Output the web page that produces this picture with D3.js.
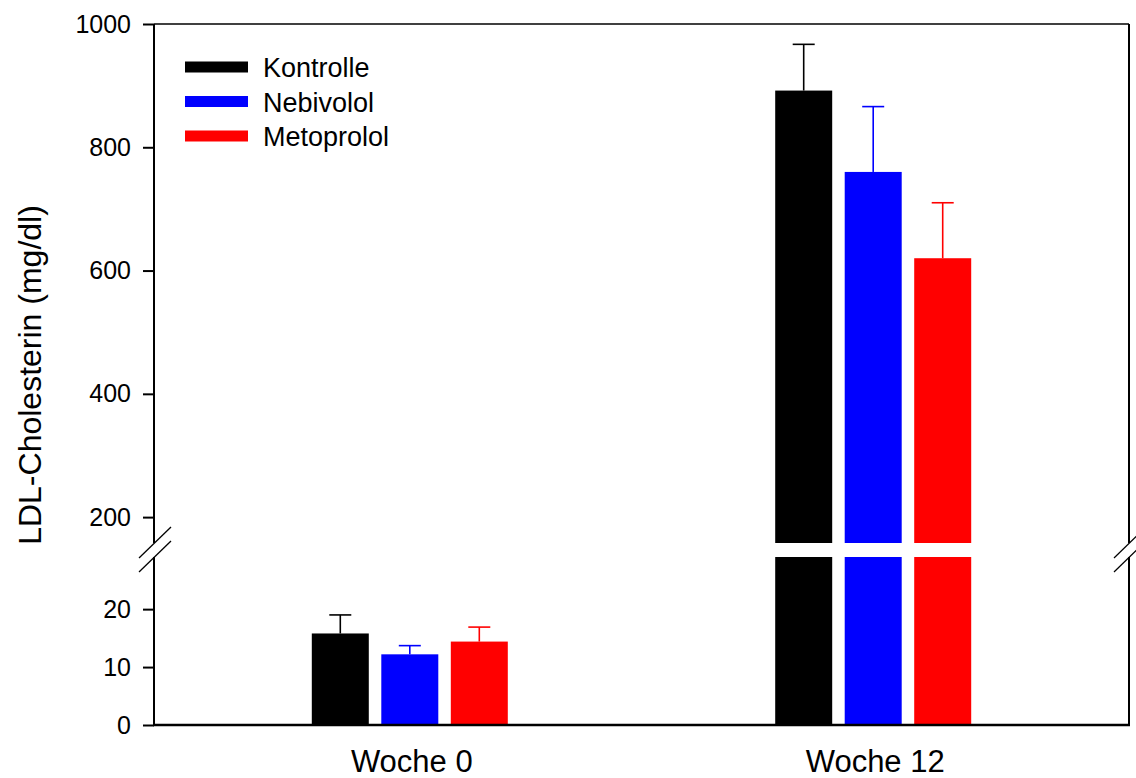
<!DOCTYPE html>
<html>
<head>
<meta charset="utf-8">
<script src="https://cdn.jsdelivr.net/npm/d3@7"></script>
<style>
  body { margin: 0; background: #fff; }
  svg { display: block; font-family: "Liberation Sans", Arial, sans-serif; }
</style>
</head>
<body>
<div id="chart"></div>
<script>
// LDL-Cholesterin, broken y axis (0–29 below, ~158–1000 above)
const weeks = ['Woche 0', 'Woche 12'];
const groups = ['Kontrolle', 'Nebivolol', 'Metoprolol'];
const colors = ['#000000', '#0000ff', '#ff0000'];
const means = [
  [15.8, 12.2, 14.4],    // Woche 0
  [892, 760, 620]        // Woche 12
];
const sems = [
  [3.2, 1.5, 2.5],
  [75, 106, 90]
];
const upperTicks = [200, 400, 600, 800, 1000];
const lowerTicks = [0, 10, 20];

const W = 1136, H = 778;
const plotL = 154, plotR = 1129, plotT = 24, plotB = 725;
const breakTop = 543, breakBot = 557;

const svg = d3.select('#chart').append('svg')
  .attr('width', W).attr('height', H);

const x = d3.scalePoint().domain(weeks).range([plotL, plotR]).padding(0.552);
const xs = d3.scaleBand().domain(groups).range([-98, 98]).paddingInner(0.18);
const yU = d3.scaleLinear().domain([158, 1000]).range([breakTop, plotT]);
const yL = d3.scaleLinear().domain([0, 29]).range([plotB, breakBot]);

// value -> pixel, across the break
function yv(v) { return v > yL.domain()[1] ? yU(v) : yL(v); }

// bars
weeks.forEach((wk, i) => {
  const g = svg.append('g');
  groups.forEach((grp, j) => {
    const v = means[i][j];
    const bx = x(wk) + xs(grp);
    if (v > yL.domain()[1]) {
      g.append('rect').attr('x', bx).attr('width', xs.bandwidth())
        .attr('y', breakBot).attr('height', plotB - breakBot).attr('fill', colors[j]);
      g.append('rect').attr('x', bx).attr('width', xs.bandwidth())
        .attr('y', yU(v)).attr('height', breakTop - yU(v)).attr('fill', colors[j]);
    } else {
      g.append('rect').attr('x', bx).attr('width', xs.bandwidth())
        .attr('y', yL(v)).attr('height', plotB - yL(v)).attr('fill', colors[j]);
    }
    // upper error bar
    const cx = bx + xs.bandwidth() / 2;
    const yTop = yv(v + sems[i][j]);
    g.append('line').attr('x1', cx).attr('x2', cx).attr('y1', yv(v)).attr('y2', yTop)
      .attr('stroke', colors[j]).attr('stroke-width', 1.6);
    g.append('line').attr('x1', cx - 11).attr('x2', cx + 11).attr('y1', yTop).attr('y2', yTop)
      .attr('stroke', colors[j]).attr('stroke-width', 1.6);
  });
});

// frame
const frame = svg.append('g').attr('stroke', '#000').attr('fill', 'none');
frame.append('line').attr('x1', plotL).attr('x2', plotR).attr('y1', plotT).attr('y2', plotT).attr('stroke-width', 1.6);
frame.append('line').attr('x1', plotL - 1).attr('x2', plotR + 1).attr('y1', plotB).attr('y2', plotB).attr('stroke-width', 2.6);
[plotL, plotR].forEach(ax => {
  frame.append('line').attr('x1', ax).attr('x2', ax).attr('y1', plotT).attr('y2', breakTop).attr('stroke-width', 2);
  frame.append('line').attr('x1', ax).attr('x2', ax).attr('y1', breakBot).attr('y2', plotB).attr('stroke-width', 2);
  // break marks
  [breakTop, breakBot].forEach(by => {
    frame.append('line').attr('x1', ax - 15).attr('x2', ax + 17)
      .attr('y1', by + 15).attr('y2', by - 16).attr('stroke-width', 1.3);
  });
});

// y axes
const axU = svg.append('g').attr('transform', `translate(${plotL},0)`)
  .call(d3.axisLeft(yU).tickValues(upperTicks).tickFormat(d3.format('d')).tickSize(11).tickPadding(12));
const axL = svg.append('g').attr('transform', `translate(${plotL},0)`)
  .call(d3.axisLeft(yL).tickValues(lowerTicks).tickFormat(d3.format('d')).tickSize(11).tickPadding(12));
[axU, axL].forEach(a => {
  a.select('.domain').remove();
  a.selectAll('.tick line').attr('stroke-width', 2);
  a.selectAll('.tick text').attr('font-size', 25).attr('fill', '#000')
    .attr('font-family', '"Liberation Sans", Arial, sans-serif');
});

// x labels
svg.selectAll('.xlab').data(weeks).enter().append('text')
  .attr('class', 'xlab')
  .attr('x', d => x(d) + 2).attr('y', 772)
  .attr('text-anchor', 'middle').attr('font-size', 31)
  .text(d => d);

// y label
svg.append('text')
  .attr('transform', 'translate(41,375) rotate(-90)')
  .attr('text-anchor', 'middle').attr('font-size', 32)
  .text('LDL-Cholesterin (mg/dl)');

// legend
const lg = svg.append('g').attr('transform', 'translate(185,67)');
groups.forEach((grp, j) => {
  const row = lg.append('g').attr('transform', `translate(0,${j * 34.5})`);
  row.append('rect').attr('x', 0).attr('y', -5.5).attr('width', 63).attr('height', 11).attr('fill', colors[j]);
  row.append('text').attr('x', 78).attr('y', 10).attr('font-size', 27).text(grp);
});
</script>
</body>
</html>
